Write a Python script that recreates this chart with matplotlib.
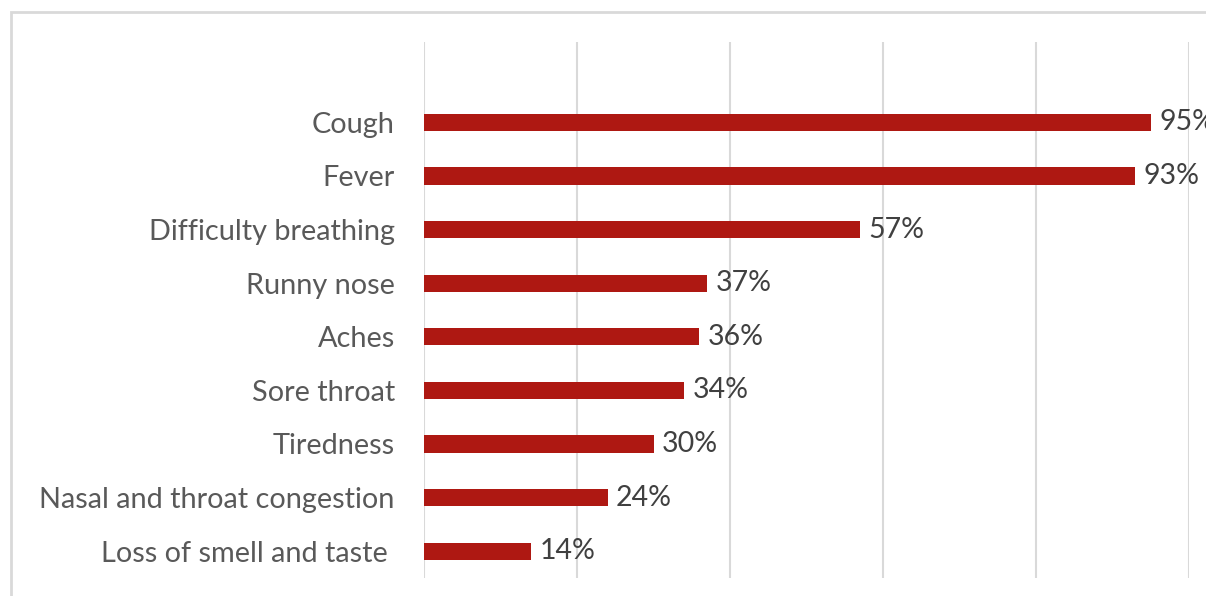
import matplotlib
matplotlib.use("Agg")
import matplotlib.pyplot as plt
from matplotlib.patches import Rectangle

categories = ["Cough", "Fever", "Difficulty breathing", "Runny nose", "Aches",
              "Sore throat", "Tiredness", "Nasal and throat congestion",
              "Loss of smell and taste "]
values = [95, 93, 57, 37, 36, 34, 30, 24, 14]
labels = ["95%", "93%", "57%", "37%", "36%", "34%", "30%", "24%", "14%"]

W, H = 1206, 596
fig = plt.figure(figsize=(W / 100, H / 100), dpi=100)
plt.rcParams['font.family'] = ['Lato', 'DejaVu Sans']

# chart border (extends beyond right/bottom edge)
fig.patches.append(Rectangle((11 / W, -0.1), 1.2, 1 - 12 / H + 0.1, transform=fig.transFigure,
                             fill=False, edgecolor="#D9D9D9", linewidth=2, zorder=0))

left, right = 424 / W, 1189 / W
top, bottom = 1 - 42 / H, 1 - 578 / H
ax = fig.add_axes([left, bottom, right - left, top - bottom])

n = len(categories)
ypos = [n - 1 - i for i in range(n)]
ax.barh(ypos, values, height=0.32, color="#AE1812", zorder=3)
ax.set_xlim(0, 100)
ax.set_ylim(-0.5, n + 0.5)
ax.set_xticks([0, 20, 40, 60, 80, 100])
ax.set_xticklabels([])
ax.tick_params(axis="x", length=0)
ax.grid(axis="x", color="#D9D9D9", linewidth=1.5, zorder=0)
ax.set_yticks(ypos)
ax.set_yticklabels(categories, fontsize=20.8, color="#595959")
ax.tick_params(axis="y", length=0, pad=21)
for s in ax.spines.values():
    s.set_visible(False)

for y, v, lab in zip(ypos, values, labels):
    ax.annotate(lab, (v, y), xytext=(6, 0), textcoords="offset points",
                va="center", ha="left", fontsize=20.5, color="#404040",
                annotation_clip=False)

fig.savefig("out.png", dpi=100)
